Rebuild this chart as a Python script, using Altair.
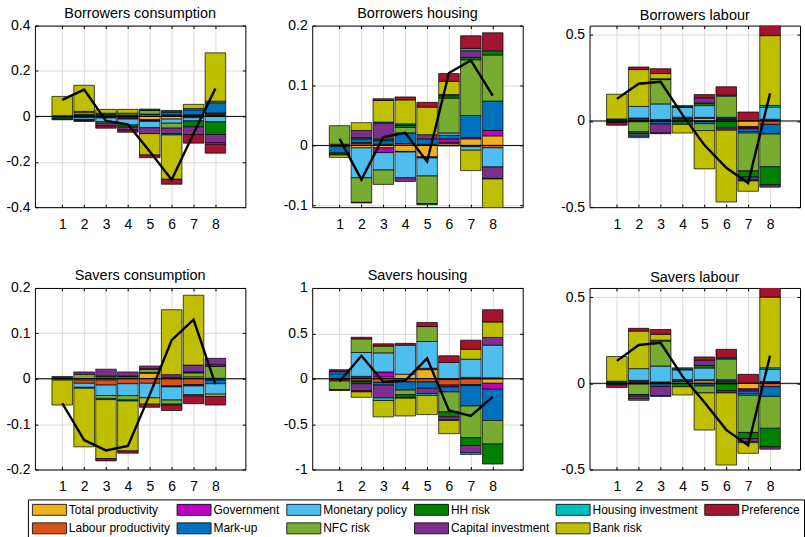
import altair as alt
import pandas as pd

FONT = "Liberation Sans"

PERIODS = [1, 2, 3, 4, 5, 6, 7, 8]

SHOCKS = ["Total productivity", "Labour productivity", "Government", "Mark-up",
          "Monetary policy", "NFC risk", "HH risk", "Capital investment",
          "Housing investment", "Bank risk", "Preference"]
COLORS = ["#EDB120", "#D95319", "#BF00BF", "#0072BD", "#4DBEEE", "#77AC30",
          "#008000", "#7E2F8E", "#00BFBF", "#BFBF00", "#A2142F"]

# Contributions: one row per shock (same order as SHOCKS), one column per period
borrowers_consumption = [
    [0, 0.004, -0.002, -0.004, -0.014, -0.012, 0.004, 0.004],
    [0, 0.005, 0.002, -0.004, -0.004, 0.003, 0.003, 0.006],
    [0, 0, -0.005, -0.004, -0.004, 0.004, -0.006, 0.005],
    [-0.004, -0.006, 0.006, 0.006, 0.010, 0.012, 0.022, 0.045],
    [0, -0.008, -0.017, -0.026, -0.028, -0.018, -0.014, -0.024],
    [0.003, 0.010, -0.006, 0.008, 0.016, -0.022, 0.006, 0.007],
    [-0.008, 0.003, 0.006, -0.010, 0.006, 0.007, -0.026, -0.056],
    [0, -0.005, -0.012, -0.012, -0.026, -0.024, -0.034, -0.037],
    [0, 0, 0, 0, 0, -0.006, 0, -0.006],
    [0.085, 0.115, 0.017, 0.017, -0.094, -0.195, 0.018, 0.213],
    [-0.003, -0.003, -0.010, -0.010, -0.012, -0.022, -0.038, -0.039],
]
borrowers_consumption_total = [0.073, 0.118, -0.020, -0.035, -0.155, -0.279, -0.075, 0.123]

borrowers_housing = [
    [-0.002, -0.004, -0.004, -0.010, -0.019, 0.003, 0.011, 0.016],
    [0.002, 0.003, 0.002, 0.003, 0.002, 0.002, -0.002, -0.004],
    [0, 0.002, -0.008, -0.001, -0.002, 0.006, 0.002, 0.009],
    [-0.010, 0.006, 0.006, 0.018, 0.009, 0.006, 0.037, 0.049],
    [-0.002, -0.050, -0.029, -0.043, -0.030, 0.004, -0.006, -0.032],
    [0.031, -0.041, -0.024, 0.009, -0.046, 0.058, 0.093, 0.077],
    [-0.002, 0.002, 0.003, 0.004, -0.002, 0.004, 0.004, 0.007],
    [0, 0.012, 0.026, -0.006, 0.007, 0.002, 0.011, -0.019],
    [0, 0, 0.002, 0.002, 0, -0.001, 0.004, -0.001],
    [-0.004, 0.013, 0.036, 0.040, 0.046, 0.022, -0.034, -0.050],
    [0, -0.001, 0.003, 0.005, 0.008, 0.013, 0.021, 0.030],
]
borrowers_housing_total = [0.011, -0.057, 0.014, 0.021, -0.027, 0.121, 0.142, 0.083]

borrowers_labour = [
    [-0.005, 0.004, 0.004, 0.010, 0.015, 0.008, -0.032, 0.004],
    [0, 0.008, 0.004, 0.004, 0.006, 0.005, -0.006, -0.020],
    [0, -0.005, -0.004, 0, -0.004, -0.004, -0.008, 0.006],
    [-0.005, 0.005, -0.014, 0.008, -0.012, 0.008, -0.016, -0.056],
    [0, 0.067, 0.091, 0.056, 0.068, 0, -0.008, 0.070],
    [0, -0.058, 0.141, -0.002, -0.040, 0.123, -0.220, -0.190],
    [0.008, -0.010, 0.005, -0.018, 0.015, -0.038, -0.035, -0.105],
    [0.004, -0.016, -0.052, 0.006, 0.030, -0.012, -0.018, -0.013],
    [0, -0.008, -0.004, 0.006, 0, 0.006, -0.005, 0.010],
    [0.143, 0.214, 0.030, -0.050, -0.222, -0.416, -0.060, 0.405],
    [-0.015, 0.015, 0.028, 0, 0.019, 0.048, 0.052, 0.065],
]
borrowers_labour_total = [0.128, 0.216, 0.227, 0.035, -0.140, -0.272, -0.360, 0.160]

savers_consumption = [
    [0, -0.003, -0.003, 0.004, 0.012, 0.003, 0.004, 0.001],
    [0, -0.007, -0.011, -0.011, -0.010, -0.016, -0.013, 0],
    [0, 0, 0, 0, 0.002, 0, 0, -0.003],
    [0, 0, 0, 0, 0, -0.002, -0.003, -0.008],
    [-0.003, -0.009, -0.023, -0.026, -0.032, -0.029, -0.019, -0.023],
    [0, 0.010, -0.007, -0.010, 0.007, -0.009, 0.009, 0.026],
    [0.002, 0, 0.006, 0.002, 0.001, -0.002, 0.002, 0.004],
    [0.003, 0.005, 0.015, 0.009, 0.006, 0.006, 0.015, 0.014],
    [0, -0.002, -0.002, -0.002, 0, 0, -0.003, 0],
    [-0.055, -0.129, -0.130, -0.110, -0.014, 0.143, 0.154, -0.005],
    [0, 0, -0.005, -0.005, -0.007, -0.012, -0.017, -0.019],
]
savers_consumption_total = [-0.054, -0.135, -0.158, -0.148, -0.035, 0.085, 0.130, -0.012]

savers_housing = [
    [-0.010, 0.010, 0.020, 0.050, 0.100, -0.010, 0.015, -0.050],
    [-0.015, -0.025, -0.040, -0.035, -0.035, -0.060, -0.065, 0.010],
    [0, -0.010, 0.055, 0, 0.015, -0.020, -0.010, -0.065],
    [0.055, 0.016, -0.030, -0.090, -0.070, -0.055, -0.225, -0.345],
    [0.020, 0.263, 0.210, 0.320, 0.295, 0.180, 0.200, 0.360],
    [-0.095, 0.150, 0.075, -0.050, 0.165, -0.220, -0.350, -0.260],
    [0.010, -0.020, 0, -0.030, 0, -0.055, -0.085, -0.220],
    [0.015, -0.080, -0.140, -0.010, -0.060, -0.030, -0.080, 0.085],
    [0, -0.010, -0.030, 0, -0.020, -0.010, -0.020, 0],
    [0, -0.060, -0.180, -0.195, -0.210, -0.145, 0.110, 0.170],
    [-0.010, 0.018, 0.025, 0.020, 0.045, 0.073, 0.100, 0.135],
]
savers_housing_total = [-0.030, 0.253, -0.035, -0.020, 0.225, -0.350, -0.410, -0.200]

savers_labour = [
    [-0.005, 0.004, 0.004, 0.010, 0.015, 0.008, -0.032, 0.004],
    [0, 0.008, 0.004, 0.004, 0.006, 0.005, -0.006, -0.020],
    [0, -0.005, -0.004, 0, -0.004, -0.004, -0.008, 0.006],
    [-0.005, 0.005, -0.014, 0.008, -0.012, 0.008, -0.016, -0.056],
    [0, 0.068, 0.092, 0.056, 0.068, 0, -0.008, 0.070],
    [0, -0.060, 0.145, -0.002, -0.040, 0.120, -0.215, -0.185],
    [0.008, -0.010, 0.005, -0.018, 0.015, -0.040, -0.036, -0.108],
    [0.004, -0.016, -0.054, 0.006, 0.030, -0.012, -0.018, -0.013],
    [0, -0.008, -0.004, 0.006, 0, 0.006, -0.005, 0.010],
    [0.143, 0.218, 0.034, -0.048, -0.215, -0.418, -0.062, 0.410],
    [-0.015, 0.016, 0.028, 0, 0.019, 0.050, 0.052, 0.060],
]
savers_labour_total = [0.130, 0.222, 0.235, 0.040, -0.110, -0.270, -0.360, 0.160]

W, H = 211, 182

color_scale = alt.Scale(domain=SHOCKS, range=COLORS)

# Wide, flat swatch: the path reaches past the nominal symbol box to the right,
# so the label offset skips over the extra width.
legend = alt.Legend(
    orient="none", legendX=-7, legendY=475, columns=6, title=None,
    symbolType="M-1,-1H5.2V1H-1Z", symbolSize=121,
    symbolStrokeColor="black", symbolStrokeWidth=0.8, symbolOpacity=1,
    labelFont=FONT, labelFontSize=12, labelColor="black", labelOffset=25,
    columnPadding=4, rowPadding=3, padding=4,
    strokeColor="black", fillColor="white",
)

GRID = "#DADADA"


def label_axis(values, orient, pad, expr=None):
    """Axis carrying tick labels and grid lines, no line of its own."""
    opts = dict(values=values, orient=orient, title=None, grid=True,
                gridColor=GRID, ticks=False, domain=False,
                labelFont=FONT, labelFontSize=14, labelColor="black",
                labelPadding=pad, labelAngle=0)
    if expr:
        opts["labelExpr"] = expr
    return alt.Axis(**opts)


def frame_axis(values, orient, offset):
    """Box edge with small inward ticks, drawn by an axis moved across the plot."""
    return alt.Axis(values=values, orient=orient, offset=offset, title=None,
                    grid=False, labels=False, domain=True, domainColor="black",
                    domainWidth=1, ticks=True, tickSize=3, tickColor="black",
                    tickWidth=1)


def panel(title, rows, total, ydomain, yticks, title_offset):
    recs = []
    for k, name in enumerate(SHOCKS):
        for p, v in zip(PERIODS, rows[k]):
            if v != 0:
                recs.append({"period": p, "shock": name, "rank": k, "value": v})
    df = pd.DataFrame(recs)
    line_df = pd.DataFrame({"period": PERIODS, "total": total})
    zero_df = pd.DataFrame({"zero": [0.0]})

    xscale = alt.Scale(domain=[-0.25, 9.37], nice=False, zero=False)
    yscale = alt.Scale(domain=ydomain, nice=False, zero=False)

    bars = (
        alt.Chart(df)
        .transform_calculate(left="datum.period - 0.47", right="datum.period + 0.47")
        .transform_stack(stack="value", groupby=["period"],
                         sort=[alt.SortField("rank", order="ascending")],
                         as_=["y0", "y1"], offset="zero")
        .mark_rect(stroke="black", strokeWidth=0.7, clip=True)
        .encode(
            x=alt.X("left:Q", scale=xscale, axis=label_axis(PERIODS, "bottom", 10)),
            x2="right:Q",
            y=alt.Y("y0:Q", scale=yscale,
                    axis=label_axis(yticks, "left", 5, "'' + datum.value")),
            y2="y1:Q",
            color=alt.Color("shock:N", scale=color_scale, legend=legend),
        )
    )
    zero = (
        alt.Chart(zero_df)
        .mark_rule(color="black", strokeWidth=1)
        .encode(y=alt.Y("zero:Q", scale=yscale, axis=frame_axis(yticks, "right", -W)))
    )
    line = (
        alt.Chart(line_df)
        .mark_line(color="black", strokeWidth=2.4, clip=True)
        .encode(x=alt.X("period:Q", scale=xscale, axis=frame_axis(PERIODS, "top", -H)),
                y=alt.Y("total:Q", scale=yscale, axis=frame_axis(yticks, "left", -W)))
    )
    edges = (
        alt.Chart(line_df)
        .mark_point(opacity=0)
        .encode(x=alt.X("period:Q", scale=xscale, axis=frame_axis(PERIODS, "bottom", -H)),
                y=alt.Y("total:Q", scale=yscale, axis=None))
    )
    return (
        alt.layer(bars, zero, line, edges)
        .resolve_axis(x="independent", y="independent")
        .properties(
            width=W, height=H,
            title=alt.Title(title, font=FONT, fontSize=14.5, fontWeight="normal",
                            color="black", offset=title_offset, frame="group"),
        )
    )


top = alt.hconcat(
    panel("Borrowers consumption", borrowers_consumption, borrowers_consumption_total,
          [-0.4, 0.4], [-0.4, -0.2, 0, 0.2, 0.4], -2.5),
    panel("Borrowers housing", borrowers_housing, borrowers_housing_total,
          [-0.103, 0.2], [-0.1, 0, 0.1, 0.2], -2.5),
    panel("Borrowers labour", borrowers_labour, borrowers_labour_total,
          [-0.5, 0.553], [-0.5, 0, 0.5], 1.5),
    spacing=36,
)
bottom = alt.hconcat(
    panel("Savers consumption", savers_consumption, savers_consumption_total,
          [-0.2, 0.2], [-0.2, -0.1, 0, 0.1, 0.2], -2.5),
    panel("Savers housing", savers_housing, savers_housing_total,
          [-1, 1], [-1, -0.5, 0, 0.5, 1], -2.5),
    panel("Savers labour", savers_labour, savers_labour_total,
          [-0.5, 0.553], [-0.5, 0, 0.5], 1.5),
    spacing=36,
)

chart = (
    alt.vconcat(top, bottom, spacing=37)
    .properties(padding={"left": 5, "top": 5, "right": 0, "bottom": 0},
                background="white")
    .configure_view(stroke=None)
)

chart.save("out.html", embed_options={"renderer": "svg", "actions": False})
